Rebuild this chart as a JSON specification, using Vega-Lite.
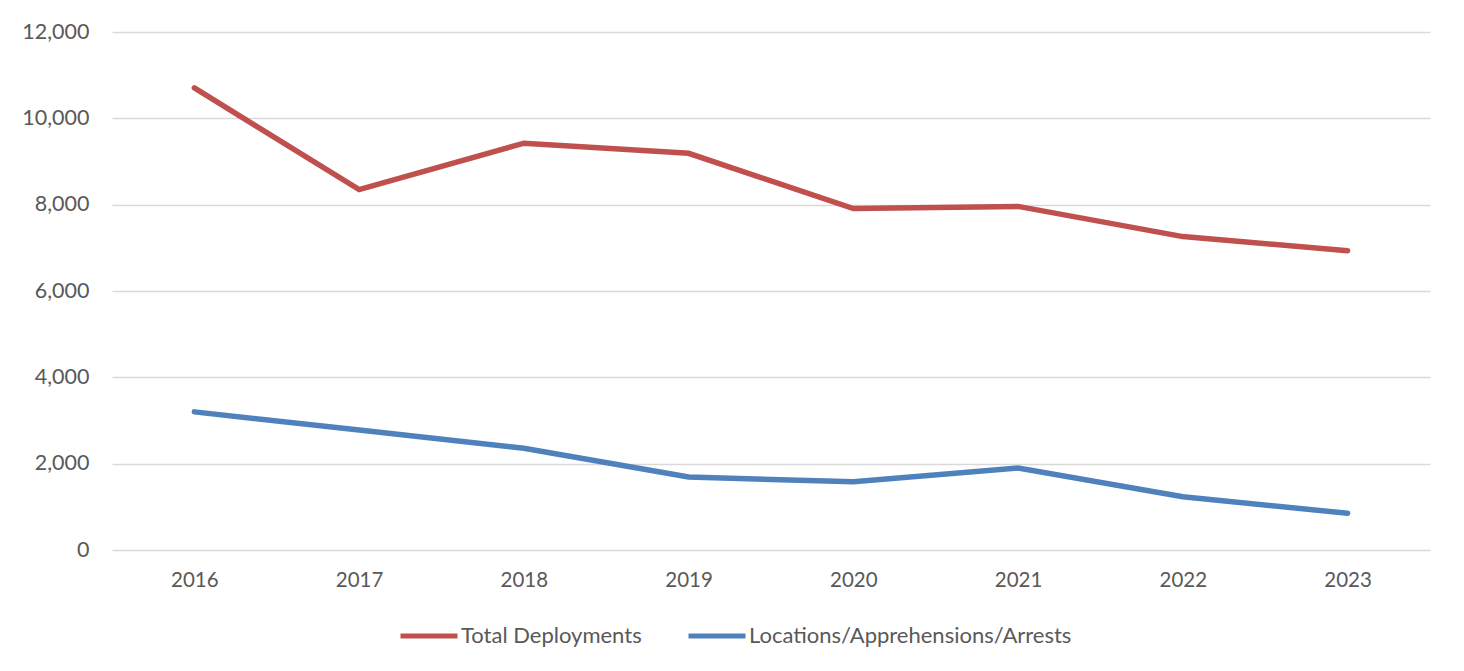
{
  "$schema": "https://vega.github.io/schema/vega-lite/v6.json",
  "width": 1318,
  "height": 518,
  "autosize": {"type": "none"},
  "padding": {"left": 112, "top": 32, "right": 34, "bottom": 121},
  "background": "white",
  "config": {
    "view": {"stroke": null},
    "font": "Lato",
    "axis": {"labelFont": "Lato", "labelFontSize": 20, "labelColor": "#595959", "titleFont": "Lato"},
    "legend": {"labelFont": "Lato", "labelFontSize": 22, "labelColor": "#595959"}
  },
  "data": {
    "values": [
      {"year": "2016", "series": "Total Deployments", "value": 10705},
      {"year": "2017", "series": "Total Deployments", "value": 8350},
      {"year": "2018", "series": "Total Deployments", "value": 9425},
      {"year": "2019", "series": "Total Deployments", "value": 9190},
      {"year": "2020", "series": "Total Deployments", "value": 7910},
      {"year": "2021", "series": "Total Deployments", "value": 7960},
      {"year": "2022", "series": "Total Deployments", "value": 7260},
      {"year": "2023", "series": "Total Deployments", "value": 6935},
      {"year": "2016", "series": "Locations/Apprehensions/Arrests", "value": 3200},
      {"year": "2017", "series": "Locations/Apprehensions/Arrests", "value": 2780},
      {"year": "2018", "series": "Locations/Apprehensions/Arrests", "value": 2355},
      {"year": "2019", "series": "Locations/Apprehensions/Arrests", "value": 1690},
      {"year": "2020", "series": "Locations/Apprehensions/Arrests", "value": 1580},
      {"year": "2021", "series": "Locations/Apprehensions/Arrests", "value": 1900},
      {"year": "2022", "series": "Locations/Apprehensions/Arrests", "value": 1235},
      {"year": "2023", "series": "Locations/Apprehensions/Arrests", "value": 850}
    ]
  },
  "mark": {"type": "line", "strokeWidth": 5.5, "strokeCap": "round", "strokeJoin": "miter"},
  "encoding": {
    "x": {
      "field": "year", "type": "ordinal",
      "scale": {"type": "point", "padding": 0.5},
      "axis": {"title": null, "labelAngle": 0, "labelFontSize": 20.5, "domain": false, "ticks": false, "tickSize": 0, "labelPadding": 20, "grid": false}
    },
    "y": {
      "field": "value", "type": "quantitative",
      "scale": {"domain": [0, 12000], "nice": false},
      "axis": {"title": null, "values": [0, 2000, 4000, 6000, 8000, 10000, 12000], "format": ",.0f", "labelFontSize": 21.5, "domain": false, "ticks": false, "tickSize": 0, "labelPadding": 23, "grid": true, "gridColor": "#D9D9D9", "gridWidth": 1.5}
    },
    "color": {
      "field": "series", "type": "nominal",
      "scale": {"domain": ["Total Deployments", "Locations/Apprehensions/Arrests"], "range": ["#C0504D", "#4F81BD"]},
      "legend": {"title": null, "orient": "none", "legendX": 286, "legendY": 573, "direction": "horizontal", "symbolType": "stroke", "symbolSize": 3249, "symbolStrokeWidth": 5, "labelOffset": 1, "columnPadding": 36, "labelLimit": 0}
    }
  }
}
